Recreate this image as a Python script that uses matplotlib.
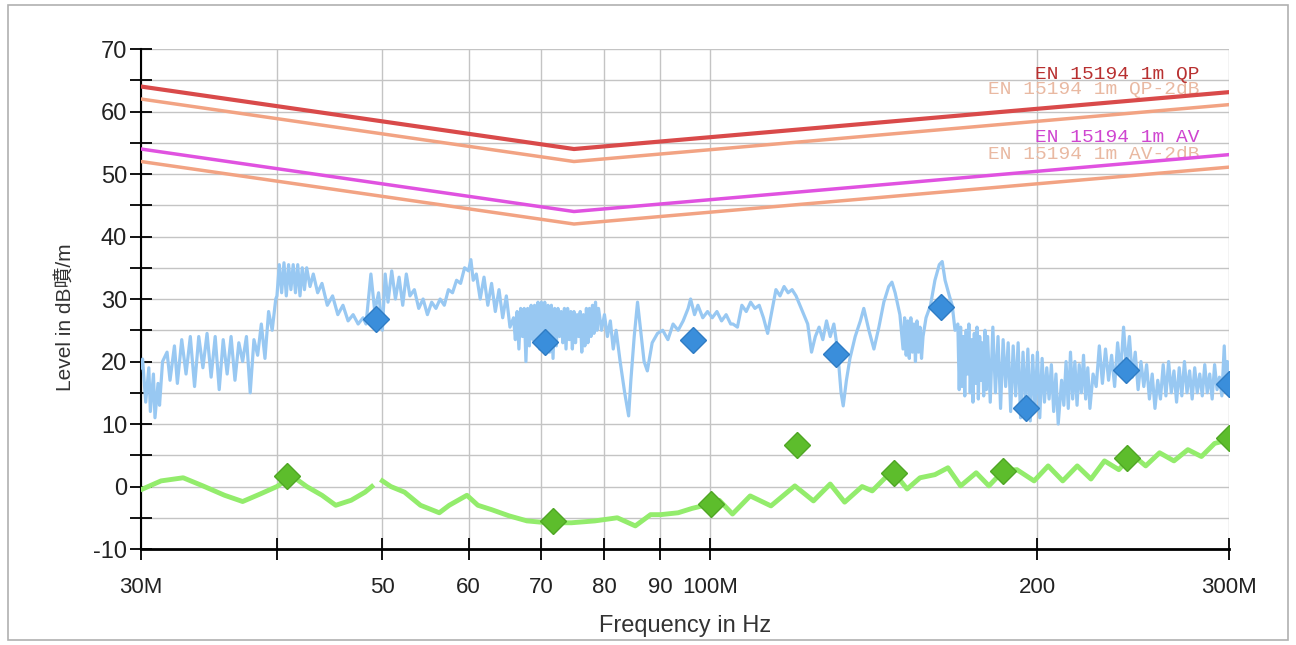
import numpy as np
import matplotlib
matplotlib.use("Agg")
import matplotlib.pyplot as plt
from matplotlib.patches import Rectangle

plt.rcParams["axes.unicode_minus"] = False

# limit lines (MHz, dB)
lim_f = [30, 75, 300]
qp = [64, 54, 63.1]
qp_2db = [62, 52, 61.1]
av = [54, 44, 53.1]
av_2db = [52, 42, 51.1]

# peak scan trace
blue_f = [30.0, 30.1, 30.3, 30.5, 30.6, 30.8, 30.9, 31.1, 31.2, 31.4, 31.7, 31.9, 32.2, 32.4,
          32.7, 33.0, 33.3, 33.6, 33.9, 34.2, 34.5, 34.8, 35.1, 35.4, 35.7, 36.0, 36.3, 36.6,
          36.9, 37.2, 37.5, 37.8, 38.1, 38.4, 38.7, 39.0, 39.3, 39.6, 39.9, 40.0, 40.2, 40.4,
          40.6, 40.8, 41.0, 41.2, 41.4, 41.6, 41.8, 42.0, 42.2, 42.4, 42.6, 42.9, 43.2, 43.6,
          44.0, 44.5, 45.0, 45.5, 46.0, 46.5, 47.0, 47.5, 48.0, 48.3, 48.8, 49.2, 49.6, 50.0,
          50.3, 50.6, 51.0, 51.4, 51.8, 52.2, 52.6, 53.0, 53.5, 54.0, 54.5, 55.0, 55.5, 56.0,
          56.5, 57.0, 57.5, 58.0, 58.5, 59.0, 59.5, 60.0, 60.3, 60.6, 61.0, 61.5, 62.0, 62.5,
          63.0, 63.5, 64.0, 64.5, 65.0, 65.5,
          66.0, 66.25, 66.5, 66.75, 67.0, 67.25, 67.5, 67.75, 68.0, 68.25, 68.5, 68.75, 69.0,
          69.25, 69.5, 69.75, 70.0, 70.25, 70.5, 70.75, 71.0, 71.25, 71.5, 71.75, 72.0, 72.25,
          72.5, 72.75, 73.0, 73.25, 73.5, 73.75, 74.0, 74.25, 74.5, 74.75, 75.0, 75.25, 75.5,
          75.75, 76.0, 76.25, 76.5, 76.75, 77.0, 77.25, 77.5, 77.75, 78.0, 78.25, 78.5, 78.75,
          79.0,
          79.5, 80.0, 80.5, 81.0, 81.5, 82.0, 82.7, 83.5, 84.2, 84.6, 85.2,
          85.8, 86.5, 87.0, 87.6, 88.5, 89.5, 90.5, 91.5, 92.5, 93.5, 94.5, 95.5, 96.0, 96.8,
          97.5, 98.5, 99.5, 100.5, 101.5, 102.5, 103.5, 104.5, 105.0, 106.0, 107.0, 108.0,
          109.0, 110.0, 111.0, 112.0, 113.0, 114.0, 115.0, 116.0, 117.0, 118.0, 119.0, 120.0,
          121.0, 122.0, 123.0, 124.0, 125.0, 126.0, 127.0, 128.0, 129.0, 130.0, 131.0, 132.0,
          132.6, 133.5, 134.5, 136.0, 137.5, 138.5, 140.0, 141.5, 143.0, 144.5, 146.0, 147.0,
          148.0, 149.5, 150.5, 151.0, 151.5, 152.0, 152.5, 153.0, 153.5, 154.0, 154.5, 155.0,
          155.5, 156.0, 156.5, 157.0, 158.0, 159.5, 161.0, 162.5, 163.5, 164.5, 166.0, 167.0,
          168.0, 169.0, 169.5, 170.0, 170.5, 171.0, 171.5, 172.0, 172.5, 173.0, 173.5, 174.0,
          174.5, 175.0, 175.5, 176.0, 176.5, 177.0, 177.5, 178.0, 178.5, 179.0, 179.5, 180.0,
          181.0, 182.0, 183.0, 184.0, 185.0, 186.0, 187.0, 188.0, 189.0, 190.0, 191.0, 192.0,
          193.0, 194.0, 195.0, 196.0, 197.0, 198.0, 199.0, 200.0, 201.0, 202.0, 203.0, 204.0,
          205.0, 206.0, 207.0, 208.0, 209.0, 210.5, 211.5, 212.5, 213.5, 214.5, 215.5, 216.5,
          217.5, 218.5, 219.5, 220.5, 221.5, 222.5, 223.5, 225.0, 226.5, 228.0, 229.5, 231.0,
          232.5, 234.0, 235.5, 237.0, 238.5, 240.0, 241.5, 243.0, 244.5, 246.0, 247.5, 249.0,
          250.5, 252.0, 253.5, 255.0, 256.5, 258.0, 259.5, 261.0, 262.5, 264.0, 265.5, 267.0,
          268.5, 270.0, 271.5, 273.0, 274.5, 276.0, 277.5, 279.0, 280.5, 282.0, 283.5, 285.0,
          286.5, 288.0, 289.5, 291.0, 292.5, 294.0, 295.5, 297.0, 298.0, 299.0, 300.0]
blue_lvl = [19.0, 20.4, 13.5, 19.0, 12.0, 18.0, 11.0, 16.5, 13.0, 20.0, 21.5, 17.0, 22.5, 16.5,
            23.5, 18.0, 24.0, 16.0, 24.0, 19.0, 24.5, 17.5, 24.0, 15.5, 23.5, 18.0, 24.0, 17.0,
            23.0, 20.0, 24.0, 15.0, 23.5, 21.0, 26.0, 20.5, 28.0, 25.0, 30.0, 30.5, 35.5, 31.0,
            35.8, 30.5, 35.5, 31.5, 35.5, 31.0, 35.5, 30.5, 35.0, 31.5, 35.0, 32.0, 34.0, 31.0,
            32.5, 29.0, 30.5, 27.5, 29.0, 26.5, 27.5, 26.0, 27.0, 26.0, 34.0, 28.0, 31.0, 25.0,
            34.0, 29.5, 34.5, 30.0, 33.5, 29.0, 34.0, 30.5, 31.5, 28.5, 30.0, 27.5, 29.5, 28.5,
            30.0, 29.0, 31.5, 31.0, 33.0, 32.5, 35.0, 34.5, 36.3, 33.0, 34.0, 30.0, 33.5, 29.0,
            32.5, 28.0, 31.5, 27.0, 30.5, 25.5,
            27.0, 23.5, 28.0, 22.0, 28.5, 24.0, 28.5, 20.0, 28.5, 22.5, 29.0, 23.5, 29.0,
            23.0, 29.5, 22.0, 29.5, 24.0, 29.5, 23.0, 29.0, 21.5, 29.0, 20.5, 28.5, 22.5,
            28.5, 24.0, 28.0, 23.0, 28.5, 22.0, 28.5, 23.5, 28.0, 22.0, 28.0, 23.0, 27.5,
            24.0, 28.0, 21.5, 27.5, 22.5, 28.5, 23.0, 28.5, 24.0, 29.0, 24.5, 29.5, 25.0,
            28.5,
            25.0, 27.5, 24.0, 26.5, 22.0, 25.0, 20.0, 15.0, 11.3, 17.0, 24.0,
            29.5, 24.0, 20.0, 18.5, 23.0, 24.5, 25.0, 23.5, 26.0, 25.0, 26.5, 28.5, 30.0, 27.5,
            29.0, 27.0, 28.0, 27.0, 28.0, 26.5, 27.5, 26.0, 26.0, 25.5, 29.0, 28.0,
            29.5, 28.5, 29.0, 27.0, 24.5, 28.0, 31.5, 30.5, 32.0, 31.0, 31.5, 30.5,
            29.0, 27.5, 26.0, 21.5, 24.0, 25.5, 23.5, 26.5, 24.0, 26.0, 22.0, 15.0,
            12.9, 17.0, 20.5, 24.0, 26.5, 28.5, 25.0, 22.0, 25.5, 29.5, 32.0, 32.7,
            31.0, 27.5, 22.0, 27.0, 21.0, 26.5, 20.5, 27.0, 21.5, 26.0, 20.0, 26.5,
            21.5, 25.5, 20.5, 24.0, 27.0, 29.0, 33.0, 35.5, 36.0, 33.0, 30.5, 29.0,
            25.0, 26.0, 15.5, 25.5, 16.0, 24.0, 14.5, 25.0, 18.0, 26.0, 15.0, 23.5,
            13.5, 24.5, 16.5, 25.5, 14.0, 24.0, 17.0, 23.0, 14.5, 25.0, 15.5, 24.0,
            13.5, 25.5, 15.0, 24.0, 12.5, 23.5, 16.0, 23.0, 12.0, 22.5, 14.5, 23.0,
            11.0, 21.5, 13.0, 22.0, 10.5, 21.0, 12.5, 21.5, 11.0, 20.5, 13.5, 19.0,
            14.0, 19.5, 12.0, 18.0, 10.0, 17.0, 13.0, 20.0, 12.5, 21.5, 14.0, 20.0,
            13.0, 19.5, 15.0, 21.0, 14.0, 19.0, 12.5, 18.0, 16.0, 22.5, 16.5, 22.0,
            17.0, 21.0, 16.0, 23.0, 18.0, 25.5, 19.0, 24.0, 17.5, 21.5, 15.5, 20.0,
            16.0, 19.5, 14.0, 18.0, 12.5, 17.0, 14.0, 19.5, 14.5, 20.0, 15.0, 18.5,
            13.5, 19.0, 14.5, 20.0, 15.0, 18.5, 14.0, 19.0, 15.0, 18.0, 14.5, 19.5,
            15.0, 18.0, 14.0, 19.5, 15.5, 17.5, 14.5, 22.5, 15.5, 20.0, 17.0]

# average trace (gap near 49.5M)
green_f = [30.1, 31.3, 32.8, 34.2, 35.8, 37.2, 38.6, 40.0, 41.3, 42.6, 44.0, 45.3, 46.8,
           48.2, 48.9, 49.5, 50.0, 50.9, 52.4, 54.2, 56.4, 57.6, 59.8, 61.2, 63.0, 65.4,
           67.9, 70.9, 74.6, 78.4, 82.2, 85.4, 88.2, 90.1, 93.5, 96.3, 100.0, 102.0, 104.9,
           108.9, 113.8, 119.7, 124.5, 129.0, 133.0, 138.0, 141.0, 145.5, 148.0, 151.8,
           156.0, 161.0, 165.5, 170.0, 175.7, 180.5, 186.0, 191.5, 198.6, 204.6, 211.0,
           217.6, 224.0, 230.5, 237.6, 244.5, 251.5, 259.0, 267.0, 275.0, 283.0, 291.0, 300.0]
green_lvl = [-0.4, 0.9, 1.4, 0.1, -1.4, -2.4, -1.2, 0.0, 1.7, 0.0, -1.4, -3.0, -2.2,
             -0.9, 0.0, np.nan, 0.9, 0.0, -0.9, -3.0, -4.2, -3.0, -1.4, -3.0, -3.7, -4.7,
             -5.5, -5.8, -5.8, -5.5, -5.0, -6.3, -4.5, -4.5, -4.2, -3.5, -2.8, -2.2, -4.4,
             -1.5, -3.1, 0.1, -2.3, 0.4, -2.5, 0.0, -0.7, 1.7, 2.0, -0.4,
             1.4, 1.9, 3.0, 0.1, 2.2, 0.1, 2.5, 2.7, 0.9, 3.3, 0.9,
             3.3, 1.2, 4.1, 2.7, 5.1, 3.3, 5.4, 4.1, 5.9, 4.8, 6.9, 7.5]

# final measurement points
qp_mark_f = [49.3, 70.6, 96.4, 130.7, 163.0, 195.3, 241.0, 300.0]
qp_mark_lvl = [26.8, 23.1, 23.4, 21.2, 28.7, 12.6, 18.6, 16.4]
av_mark_f = [40.9, 71.7, 100.2, 120.2, 147.5, 186.0, 241.5, 300.0]
av_mark_lvl = [1.7, -5.5, -2.8, 6.6, 2.2, 2.5, 4.6, 7.8]

xticks = [30, 40, 50, 60, 70, 80, 90, 100, 200, 300]
xlabels = ["30M", "", "50", "60", "70", "80", "90", "100M", "200", "300M"]

fig = plt.figure(figsize=(12.96, 6.45), dpi=100)
fig.patches.append(Rectangle((0.006, 0.008), 0.988, 0.985, transform=fig.transFigure,
                             fill=False, edgecolor="#b0b0b0", lw=1.2))
ax = fig.add_axes([0.1088, 0.1488, 0.8395, 0.7752])

ax.plot(blue_f, blue_lvl, color="#98c8f2", lw=2.3, zorder=3)
ax.plot(green_f, green_lvl, color="#93ec6c", lw=3.5, zorder=3)

ax.plot(lim_f, qp_2db, color="#f2a383", lw=2.5, zorder=4)
ax.plot(lim_f, av_2db, color="#f2a383", lw=2.5, zorder=4)
ax.plot(lim_f, qp, color="#d94a4a", lw=3, zorder=5)
ax.plot(lim_f, av, color="#e052e0", lw=2.5, zorder=5)

ax.plot(qp_mark_f, qp_mark_lvl, "D", color="#3a8edb", ms=13, mec="#2f7cc4", ls="none", zorder=6)
ax.plot(av_mark_f, av_mark_lvl, "D", color="#5dbd2c", ms=13, mec="#4fa624", ls="none", zorder=6)

mono = ["Liberation Mono", "DejaVu Sans Mono"]
ax.text(282, 66.0, "EN 15194 1m QP", color="#b83030", fontsize=14, family=mono,
        ha="right", va="center", zorder=7)
ax.text(282, 63.6, "EN 15194 1m QP-2dB", color="#e9b9a2", fontsize=14, family=mono,
        ha="right", va="center", zorder=2)
ax.text(282, 55.9, "EN 15194 1m AV", color="#cf45d0", fontsize=14, family=mono,
        ha="right", va="center", zorder=7)
ax.text(282, 53.2, "EN 15194 1m AV-2dB", color="#e9b9a2", fontsize=14, family=mono,
        ha="right", va="center", zorder=2)

ax.set_xscale("log")
ax.set_xlim(30, 300)
ax.set_ylim(-10, 70)
ax.set_xticks(xticks)
ax.set_xticklabels(xlabels)
ax.xaxis.set_minor_locator(matplotlib.ticker.NullLocator())
ax.set_yticks(range(-10, 71, 10))
ax.set_yticks(range(-5, 70, 10), minor=True)
ax.grid(True, which="both", color="#c4c4c4", lw=1)
ax.set_axisbelow(True)

for s in ["top", "right"]:
    ax.spines[s].set_visible(False)
ax.spines["left"].set_linewidth(1.5)
ax.spines["bottom"].set_linewidth(2)
ax.tick_params(which="both", direction="inout", length=16, width=1.3, colors="black")
ax.tick_params(axis="y", which="both", labelsize=17, pad=2)
ax.tick_params(axis="x", labelsize=16, pad=12)
for lbl in ax.get_xticklabels() + ax.get_yticklabels():
    lbl.set_family("Liberation Sans")
    lbl.set_color("#222222")

ax.set_xlabel("Frequency in Hz", fontsize=17, family="Liberation Sans", color="#333333")
ax.xaxis.set_label_coords(0.5, -0.132)
ax.set_ylabel("Level in dB噴/m", fontsize=15, family=["Liberation Sans", "Noto Sans CJK SC"],
              color="#333333")
ax.yaxis.set_label_coords(-0.061, 0.464)

fig.savefig("out.png", dpi=100)
